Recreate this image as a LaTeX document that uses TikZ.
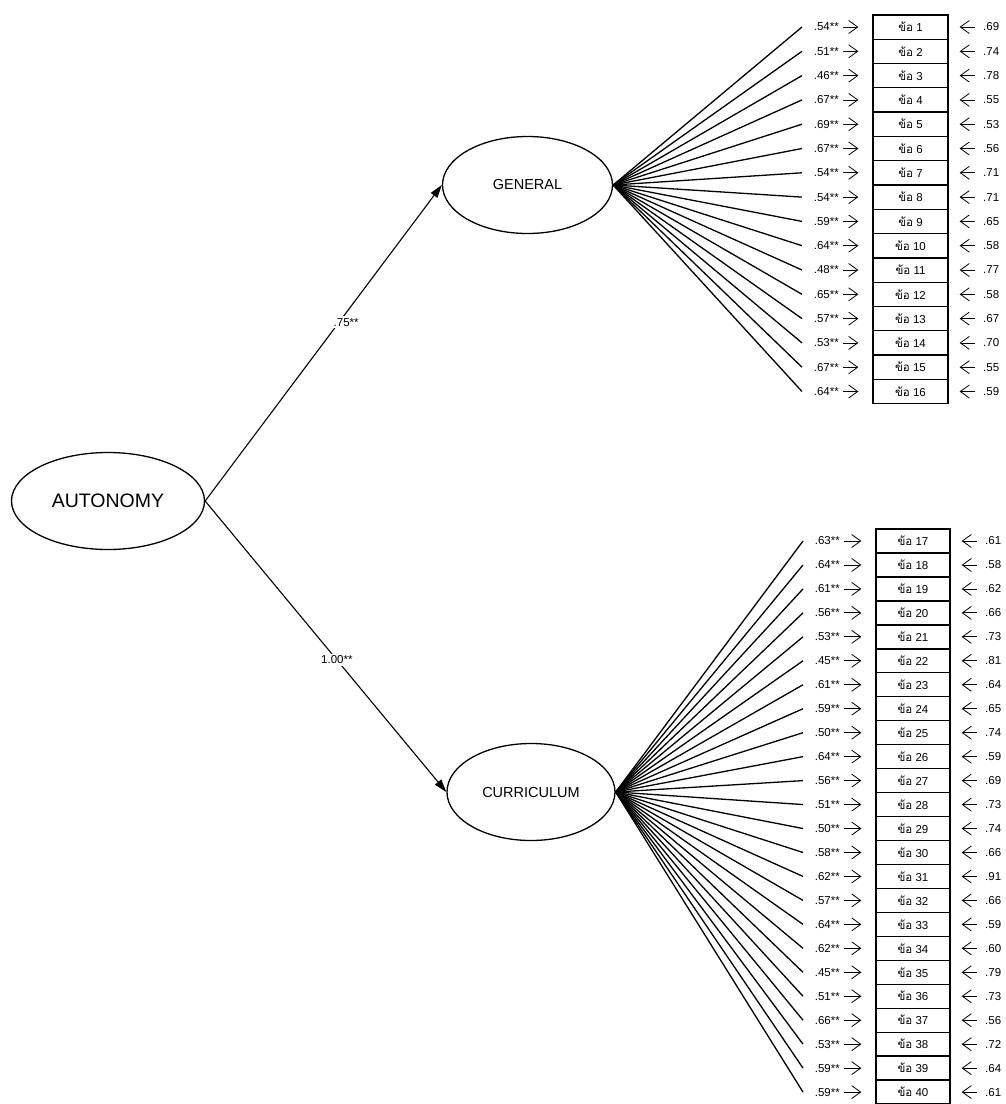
\documentclass[tikz,border=0pt]{standalone}
\usepackage{fontspec}
\setmainfont{Liberation Sans}
\newfontfamily\thaifont[Script=Thai]{Loma}
\usetikzlibrary{arrows.meta,shapes.geometric}
\begin{document}
\begin{tikzpicture}[x=1pt,y=-1pt,
  latent/.style={ellipse, draw, line width=1.3pt, inner sep=0pt},
  itembox/.style={rectangle, draw, line width=1.3pt, inner sep=0pt, font=\fontsize{11.5}{12}\selectfont},
  ldlab/.style={anchor=east, inner sep=0pt, font=\fontsize{11.5}{12}\selectfont},
  erlab/.style={anchor=west, inner sep=0pt, font=\fontsize{11.5}{12}\selectfont},
  pathlab/.style={fill=white, inner sep=2pt, font=\fontsize{11.5}{12}\selectfont},
  fan/.style={line width=1.3pt},
  ldarr/.style={-{Straight Barb[length=9pt,width=13pt]}, line width=0.8pt, shorten <=4pt, shorten >=14pt},
  erarr/.style={-{Straight Barb[length=9pt,width=13pt]}, line width=0.8pt, shorten <=8pt, shorten >=11pt},
  structpath/.style={-{Triangle[length=13pt,width=8pt]}, line width=1.1pt}]
\useasboundingbox (0,0) rectangle (1005,1104);
\node[latent, minimum width=193pt, minimum height=97pt, font=\fontsize{19.5}{20}\selectfont] (aut) at (108,501) {AUTONOMY};
\node[latent, minimum width=170pt, minimum height=97pt, font=\fontsize{14.5}{16}\selectfont] (gen) at (527.5,185) {GENERAL};
\node[latent, minimum width=168pt, minimum height=97pt, font=\fontsize{14.5}{16}\selectfont] (cur) at (531,792) {CURRICULUM};
\draw[structpath] (aut.east) -- node[pathlab, pos=0.566, anchor=west, xshift=-8pt] (p1) {.75**} (gen.west);
\draw[structpath] (aut.east) -- node[pathlab, pos=0.546] (p2) {1.00**} (cur.west);
\foreach \i/\l/\e [count=\k from 0] in {1/.54/.69, 2/.51/.74, 3/.46/.78, 4/.67/.55, 5/.69/.53, 6/.67/.56, 7/.54/.71, 8/.54/.71, 9/.59/.65, 10/.64/.58, 11/.48/.77, 12/.65/.58, 13/.57/.67, 14/.53/.70, 15/.67/.55, 16/.64/.59} {
  \pgfmathsetmacro\yy{27+\k*24.3}
  \node[itembox, minimum width=75pt, minimum height=24.3pt] (it\i) at (910.5,\yy) {{\thaifont ข้อ}~\i};
  \node[ldlab] (ld\i) at (839,\yy) {\l**};
  \node[erlab] (er\i) at (983,\yy) {\e};
  \coordinate (fa\i) at (802,\yy);
  \draw[fan] (gen.east) -- (fa\i);
  \draw[ldarr] (ld\i.east) -- (it\i.west);
  \draw[erarr] (er\i.west) -- (it\i.east);
}
\foreach \i/\l/\e [count=\k from 0] in {17/.63/.61, 18/.64/.58, 19/.61/.62, 20/.56/.66, 21/.53/.73, 22/.45/.81, 23/.61/.64, 24/.59/.65, 25/.50/.74, 26/.64/.59, 27/.56/.69, 28/.51/.73, 29/.50/.74, 30/.58/.66, 31/.62/.91, 32/.57/.66, 33/.64/.59, 34/.62/.60, 35/.45/.79, 36/.51/.73, 37/.66/.56, 38/.53/.72, 39/.59/.64, 40/.59/.61} {
  \pgfmathsetmacro\yy{541+\k*23.96}
  \node[itembox, minimum width=74pt, minimum height=24pt] (it\i) at (913,\yy) {{\thaifont ข้อ}~\i};
  \node[ldlab] (ld\i) at (840,\yy) {\l**};
  \node[erlab] (er\i) at (985,\yy) {\e};
  \coordinate (fa\i) at (803,\yy);
  \draw[fan] (cur.east) -- (fa\i);
  \draw[ldarr] (ld\i.east) -- (it\i.west);
  \draw[erarr] (er\i.west) -- (it\i.east);
}
\end{tikzpicture}
\end{document}
